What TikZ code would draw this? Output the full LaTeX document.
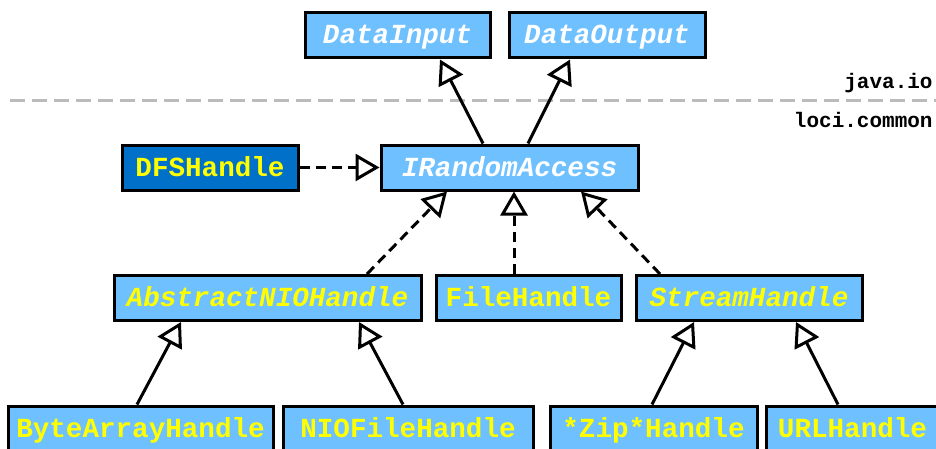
\documentclass[tikz,border=0pt]{standalone}
\usepackage{fontspec}
\setmonofont{Liberation Mono}
\usepackage{tikz}
\usetikzlibrary{arrows.meta, positioning}
\definecolor{iblue}{HTML}{6EC0FF}
\definecolor{dblue}{HTML}{0070C8}
\definecolor{hlyellow}{HTML}{FFFF00}
\definecolor{pkggray}{HTML}{BBBBBB}

\begin{document}
\begin{tikzpicture}[
  x = 0.5pt, y = -0.5pt,
  box/.style = {rectangle, draw, line width=1.5pt, minimum height=22.5pt, inner sep=0pt,
                text height=10.5pt, text depth=2pt,
                font=\fontsize{13.8}{16}\selectfont\ttfamily\bfseries},
  iface/.style = {box, fill=iblue, text=white, font=\fontsize{13.8}{16}\selectfont\ttfamily\bfseries\itshape},
  abst/.style = {box, fill=iblue, text=hlyellow, font=\fontsize{13.8}{16}\selectfont\ttfamily\bfseries\itshape},
  impl/.style = {box, fill=iblue, text=hlyellow},
  ext/.style = {box, fill=dblue, text=hlyellow},
  pkg/.style = {anchor=east, inner sep=0pt, font=\fontsize{10.5}{12}\selectfont\ttfamily\bfseries},
  arr/.style = {-{Triangle[open, length=12pt, width=13.5pt]}, line width=1.5pt},
  darr/.style = {arr, dash pattern=on 5pt off 3pt},
]
  \useasboundingbox (0,0) rectangle (936,449);

  % java.io
  \node[iface, minimum width=92.5pt] (din)  at (397.5,35.5) {DataInput};
  \node[iface, minimum width=98pt]   (dout) at (607,35.5)   {DataOutput};

  % package divider
  \draw[pkggray, line width=1.5pt, dash pattern=on 7.5pt off 3.5pt] (10,101) -- (936,101);
  \node[pkg] (javaio) at (933,83)  {java.io};
  \node[pkg] (loci)   at (933,120) {loci.common};

  % loci.common
  \node[iface, minimum width=128.5pt] (irand) at (509.5,167.5) {IRandomAccess};
  \node[ext,   minimum width=88pt]    (dfs)   at (210,167.5)   {DFSHandle};

  \node[abst, minimum width=153.5pt] (anio)   at (267.5,298) {AbstractNIOHandle};
  \node[impl, minimum width=92.5pt]  (file)   at (528.5,298) {FileHandle};
  \node[abst, minimum width=113pt]   (stream) at (749,298)   {StreamHandle};

  \node[impl, minimum width=132.5pt] (bytes) at (140.5,428.5) {ByteArrayHandle};
  \node[impl, minimum width=125pt]   (nio)   at (408,428.5)   {NIOFileHandle};
  \node[impl, minimum width=103.5pt] (zip)   at (653.5,428.5) {*Zip*Handle};
  \node[impl, minimum width=86.5pt]  (url)   at (852.5,428.5) {URLHandle};

  \draw[arr] ([xshift=-13.25pt]irand.north) -- ([xshift=21.25pt]din.south);
  \draw[arr] ([xshift=9.25pt]irand.north)   -- ([xshift=-18.5pt]dout.south);

  \draw[darr] (dfs) -- (irand);
  \draw[darr] ([xshift=49.75pt]anio.north)  -- ([xshift=-31.25pt]irand.south);
  \draw[darr] ([xshift=-7.25pt]file.north)  -- ([xshift=2.25pt]irand.south);
  \draw[darr] ([xshift=-44.5pt]stream.north) -- ([xshift=35.75pt]irand.south);

  \draw[arr] ([xshift=-1.75pt]bytes.north) -- ([xshift=-43.25pt]anio.south);
  \draw[arr] ([xshift=-2.5pt]nio.north)    -- ([xshift=45.75pt]anio.south);
  \draw[arr] ([xshift=-0.75pt]zip.north)   -- ([xshift=-27.5pt]stream.south);
  \draw[arr] ([xshift=-7.25pt]url.north)   -- ([xshift=23.5pt]stream.south);
\end{tikzpicture}
\end{document}
